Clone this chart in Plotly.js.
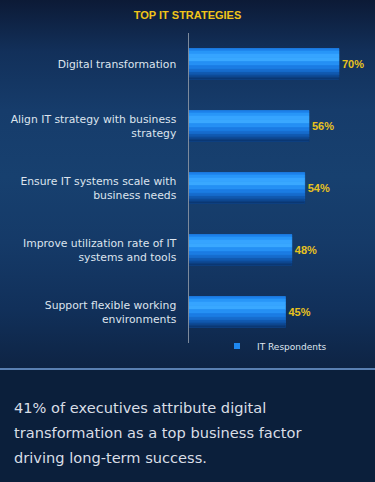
<!DOCTYPE html>
<html>
<head>
<meta charset="utf-8">
<script src="https://cdn.plot.ly/plotly-3.0.1.min.js"></script>
<style>
  html, body { margin: 0; padding: 0; width: 375px; height: 482px; overflow: hidden; background: #0b1f3b; }
  #top { width: 375px; height: 368px;
    background: linear-gradient(to bottom, #0c1a36 0%, #12305a 14%, #163c6b 30%, #17406f 48%, #153a68 66%, #11305a 84%, #0e2444 100%); }
  #sep { width: 375px; height: 2px; background: #5a80b2; }
  #note { width: 375px; height: 112px; background: #0b1f3b; box-sizing: border-box;
    padding: 25px 0 0 14px; font-family: "DejaVu Sans", Verdana, sans-serif; font-size: 14.6px;
    line-height: 25px; color: #d9dee6; }
</style>
</head>
<body>
<div id="top"><div id="chart" style="width:375px;height:368px;"></div></div>
<div id="sep"></div>
<div id="note">41% of executives attribute digital<br>transformation as a top business factor<br>driving long-term success.</div>
<script>
const categories = [
  "Digital transformation",
  "Align IT strategy with business<br>strategy",
  "Ensure IT systems scale with<br>business needs",
  "Improve utilization rate of IT<br>systems and tools",
  "Support flexible working<br>environments"
];
const values = [70, 56, 54, 48, 45];
const seriesName = "IT Respondents";
const chartTitle = "TOP IT STRATEGIES";

const barWidth = 0.5;
// vertical gradient stripes across each bar (top -> bottom)
const stripes = [
  [0.00, 0.08, "#1c80ea"],
  [0.08, 0.18, "#2896f8"],
  [0.18, 0.30, "#36a4ff"],
  [0.30, 0.42, "#3aa8ff"],
  [0.42, 0.55, "#2590f4"],
  [0.55, 0.67, "#1b7ce4"],
  [0.67, 0.77, "#166bcc"],
  [0.77, 0.86, "#1158ae"],
  [0.86, 0.94, "#0d468e"],
  [0.94, 1.00, "#0b3874"]
];

const traces = [];
traces.push({
  type: "bar", orientation: "h", x: values, y: categories,
  width: barWidth, offset: -barWidth / 2,
  marker: { color: "#1a80e8", line: { width: 0 } },
  texttemplate: "%{x}%", textposition: "outside", cliponaxis: false,
  textfont: { family: "Liberation Sans, Arial, sans-serif", size: 11, color: "#e8c21e", weight: "bold" },
  showlegend: false, hoverinfo: "skip"
});
stripes.forEach(s => {
  traces.push({
    type: "bar", orientation: "h", x: values, y: categories,
    width: (s[1] - s[0]) * barWidth, offset: -barWidth / 2 + s[0] * barWidth,
    marker: { color: s[2], line: { width: 0.6, color: s[2] } },
    textposition: "none", showlegend: false, hoverinfo: "skip"
  });
});
traces.push({
  type: "scatter", mode: "markers", x: [null], y: [categories[0]], name: seriesName,
  marker: { symbol: "square", size: 6, color: "#1e88f0" }, showlegend: true, hoverinfo: "skip"
});

const layout = {
  width: 375, height: 368,
  paper_bgcolor: "rgba(0,0,0,0)", plot_bgcolor: "rgba(0,0,0,0)",
  margin: { l: 189, r: 6, t: 33, b: 25, autoexpand: false },
  barmode: "overlay", bargap: 0.5,
  title: {
    text: chartTitle, x: 0.5, xref: "container", xanchor: "center",
    y: 1 - 15 / 368, yref: "container", yanchor: "middle",
    font: { family: "Liberation Sans, Arial, sans-serif", size: 11, color: "#f0c419", weight: "bold" }
  },
  xaxis: { range: [0, 84], visible: false, fixedrange: true },
  yaxis: {
    type: "category", autorange: false, range: [4.5, -0.5],
    categoryorder: "array", categoryarray: categories,
    showline: true, linecolor: "#7d8a9c", linewidth: 1.5,
    showgrid: false, zeroline: false, ticks: "outside", ticklen: 9, tickcolor: "rgba(0,0,0,0)",
    tickfont: { family: "DejaVu Sans, Verdana, sans-serif", size: 10.8, color: "#dde4ee" },
    fixedrange: true
  },
  showlegend: true,
  legend: {
    orientation: "h", xref: "container", yref: "container",
    x: 217 / 375, xanchor: "left", y: (368 - 346) / 368, yanchor: "middle",
    font: { family: "DejaVu Sans, Verdana, sans-serif", size: 9, color: "#dfe5ee" },
    bgcolor: "rgba(0,0,0,0)", itemwidth: 30
  }
};

Plotly.newPlot("chart", traces, layout, { displayModeBar: false, staticPlot: true });
</script>
</body>
</html>
